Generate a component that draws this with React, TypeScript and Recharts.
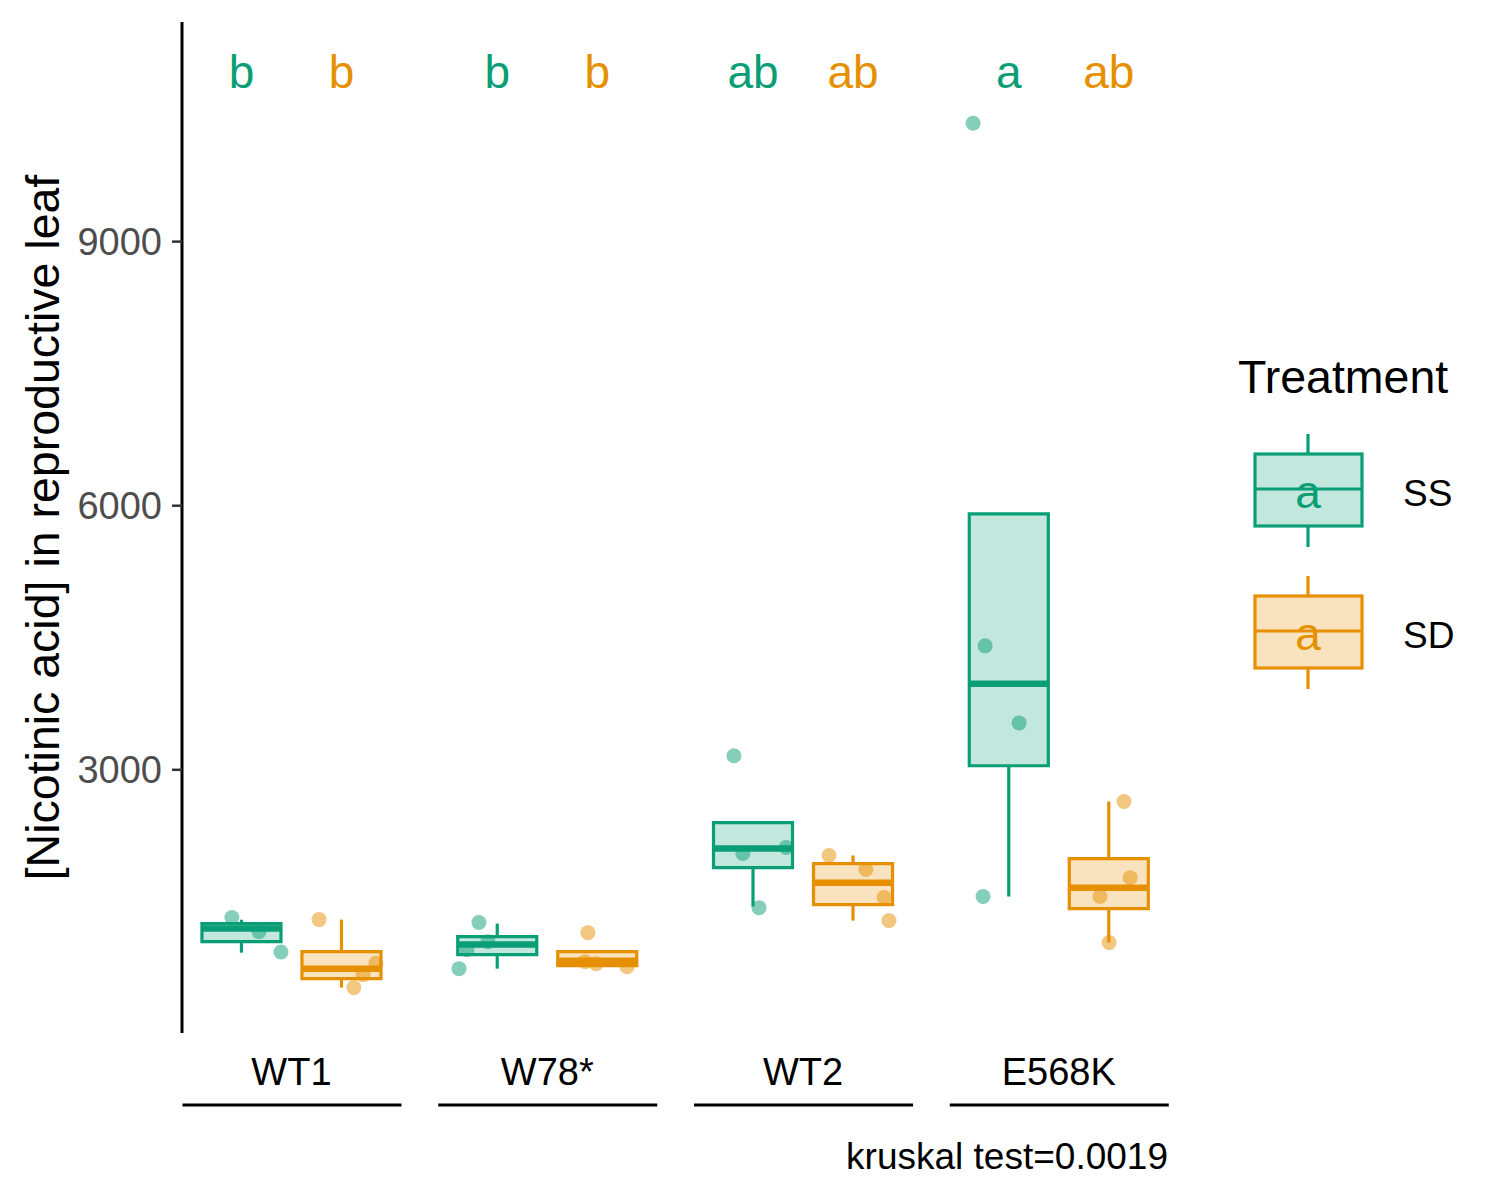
import React from "react";
import {
  ComposedChart,
  Scatter,
  XAxis,
  YAxis,
  ReferenceArea,
  ReferenceLine,
  Legend,
} from "recharts";

const FONT = "'Liberation Sans', Arial, sans-serif";

const genotypes = ["WT1", "W78*", "WT2", "E568K"];
const treatments = ["SS", "SD"];
const treatmentColors = ["#0A9E76", "#E69000"];

// box statistics (whisker ends, hinges, median)
const ssLower = [923, 741, 1446, 1560];
const ssQ1 = [1048, 900, 1889, 3046];
const ssMedian = [1196, 1014, 2106, 3977];
const ssQ3 = [1252, 1105, 2400, 5907];
const ssUpper = [1297, 1253, 2400, 5907];

const sdLower = [526, 763, 1287, 1037];
const sdQ1 = [628, 775, 1469, 1422];
const sdMedian = [741, 832, 1718, 1660];
const sdQ3 = [934, 934, 1935, 1990];
const sdUpper = [1298, 934, 2026, 2640];

// jittered raw points (x in genotype units, y in concentration)
const ssPointX = [
  [0.767, 0.873, 0.959],
  [1.733, 1.768, 1.686, 1.655],
  [2.73, 2.765, 2.934, 2.828],
  [3.665, 3.712, 3.845, 3.704],
];
const ssPointY = [
  [1321, 1162, 930],
  [1265, 1048, 957, 741],
  [3160, 2050, 2118, 1434],
  [10346, 4408, 3533, 1560],
];
const sdPointX = [
  [1.108, 1.33, 1.28, 1.244],
  [2.159, 2.148, 2.191, 2.312],
  [3.102, 3.246, 3.317, 3.336],
  [4.255, 4.279, 4.161, 4.197],
];
const sdPointY = [
  [1298, 801, 673, 526],
  [1150, 820, 797, 763],
  [2026, 1867, 1549, 1287],
  [2640, 1775, 1560, 1037],
];

const ssLetters = ["b", "b", "ab", "a"];
const sdLetters = ["b", "b", "ab", "ab"];

const yTicks = [3000, 6000, 9000];
const LETTER_Y = 10740;
const DODGE = 0.1955;
const HALF = 0.1545;
const LW = 3.2;

const groups = [
  { name: treatments[0], color: treatmentColors[0], side: -1, lower: ssLower, q1: ssQ1, med: ssMedian, q3: ssQ3, upper: ssUpper, px: ssPointX, py: ssPointY, letters: ssLetters },
  { name: treatments[1], color: treatmentColors[1], side: 1, lower: sdLower, q1: sdQ1, med: sdMedian, q3: sdQ3, upper: sdUpper, px: sdPointX, py: sdPointY, letters: sdLetters },
];

function GroupTick(props: any) {
  const { x, y, payload } = props;
  const label = genotypes[payload.value - 1];
  return (
    <g>
      <text x={x} y={y + 52} textAnchor="middle" fontSize={38} fontFamily={FONT} fill="#000">
        {label}
      </text>
      <line x1={x - 109} x2={x + 110} y1={y + 72} y2={y + 72} stroke="#000" strokeWidth={3} />
    </g>
  );
}

function LegendKeys() {
  return (
    <svg width={260} height={360} style={{ display: "block" }}>
      <text x={18} y={53} fontSize={46.5} fontFamily={FONT} fill="#000">
        Treatment
      </text>
      {groups.map((g, i) => {
        const top = 114 + i * 142;
        return (
          <g key={g.name}>
            <line x1={88} x2={88} y1={top - 20} y2={top} stroke={g.color} strokeWidth={LW} />
            <line x1={88} x2={88} y1={top + 72} y2={top + 93} stroke={g.color} strokeWidth={LW} />
            <rect x={35} y={top} width={107} height={72} fill={g.color} fillOpacity={0.25} stroke={g.color} strokeWidth={LW} />
            <line x1={35} x2={142} y1={top + 35} y2={top + 35} stroke={g.color} strokeWidth={LW} />
            <text x={88} y={top + 54} textAnchor="middle" fontSize={46} fontFamily={FONT} fill={g.color}>
              a
            </text>
            <text x={183} y={top + 52} fontSize={37} fontFamily={FONT} fill="#000">
              {g.name}
            </text>
          </g>
        );
      })}
    </svg>
  );
}

export default function App() {
  return (
    <div style={{ position: "absolute", left: 0, top: 0, width: 1500, height: 1200, background: "#fff" }}>
      <ComposedChart width={1500} height={1200} margin={{ top: 22, right: 332, bottom: 0, left: 0 }}>
        <XAxis
          type="number"
          dataKey="x"
          domain={[0.572, 4.427]}
          ticks={[1, 2, 3, 4]}
          allowDataOverflow
          axisLine={false}
          tickLine={false}
          tickSize={0}
          tickMargin={0}
          height={167}
          tick={<GroupTick />}
        />
        <YAxis
          type="number"
          dataKey="y"
          domain={[10, 11495]}
          ticks={yTicks}
          allowDataOverflow
          width={182}
          axisLine={{ stroke: "#000", strokeWidth: 3 }}
          tickLine={{ stroke: "#333", strokeWidth: 2.5 }}
          tickSize={10}
          tickMargin={10}
          tick={{ fill: "#4D4D4D", fontSize: 38, fontFamily: FONT }}
          label={{
            content: (p: any) => {
              const vb = p.viewBox || { x: 0, y: 22, width: 182, height: 1011 };
              const cx = vb.x + 43;
              const cy = vb.y + vb.height / 2;
              return (
                <text
                  x={cx}
                  y={cy}
                  transform={`rotate(-90 ${cx} ${cy})`}
                  textAnchor="middle"
                  dominantBaseline="central"
                  fontSize={46.5}
                  fontFamily={FONT}
                  fill="#000"
                >
                  [Nicotinic acid] in reproductive leaf
                </text>
              );
            },
          }}
        />

        {groups.map((g) =>
          genotypes.map((name, i) => {
            const cx = i + 1 + g.side * DODGE;
            return [
              <ReferenceLine
                key={`${g.name}-${name}-hi`}
                segment={[{ x: cx, y: g.q3[i] }, { x: cx, y: g.upper[i] }]}
                stroke={g.color}
                strokeWidth={LW}
              />,
              <ReferenceLine
                key={`${g.name}-${name}-lo`}
                segment={[{ x: cx, y: g.lower[i] }, { x: cx, y: g.q1[i] }]}
                stroke={g.color}
                strokeWidth={LW}
              />,
              <ReferenceArea
                key={`${g.name}-${name}-box`}
                x1={cx - HALF}
                x2={cx + HALF}
                y1={g.q1[i]}
                y2={g.q3[i]}
                fill={g.color}
                fillOpacity={0.25}
                stroke={g.color}
                strokeWidth={LW}
                strokeOpacity={1}
              />,
              <ReferenceLine
                key={`${g.name}-${name}-med`}
                segment={[{ x: cx - HALF, y: g.med[i] }, { x: cx + HALF, y: g.med[i] }]}
                stroke={g.color}
                strokeWidth={6.5}
              />,
            ];
          })
        )}

        {groups.map((g) => (
          <Scatter
            key={`${g.name}-pts`}
            name={g.name}
            data={g.px.flatMap((xs, i) => xs.map((x, j) => ({ x, y: g.py[i][j] })))}
            fill={g.color}
            isAnimationActive={false}
            shape={(p: any) => <circle cx={p.cx} cy={p.cy} r={7.5} fill={g.color} fillOpacity={0.5} />}
          />
        ))}

        {groups.map((g) => (
          <Scatter
            key={`${g.name}-letters`}
            data={g.letters.map((label, i) => ({ x: i + 1 + g.side * DODGE, y: LETTER_Y, label }))}
            fill={g.color}
            isAnimationActive={false}
            shape={(p: any) => (
              <text x={p.cx} y={p.cy} textAnchor="middle" fontSize={46} fontFamily={FONT} fill={g.color}>
                {p.payload.label}
              </text>
            )}
          />
        ))}

        <Legend
          layout="horizontal"
          align="center"
          verticalAlign="middle"
          wrapperStyle={{ left: 1220, top: 340, width: 260, height: 360 }}
          content={() => <LegendKeys />}
        />
      </ComposedChart>
      <div
        style={{
          position: "absolute",
          left: 0,
          top: 1136,
          width: 1168,
          textAlign: "right",
          fontFamily: FONT,
          fontSize: 37,
          lineHeight: "41px",
          color: "#000",
        }}
      >
        kruskal test=0.0019
      </div>
    </div>
  );
}
